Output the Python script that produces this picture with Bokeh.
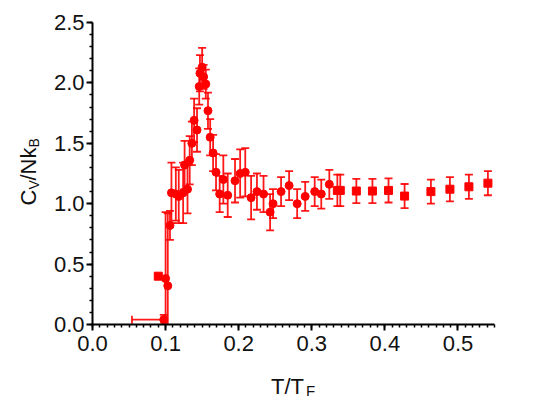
from math import pi
from bokeh.plotting import figure
from bokeh.models import (Range1d, FixedTicker, Whisker, TeeHead, ColumnDataSource, Label,
                          PrintfTickFormatter)
from bokeh.embed import file_html
from bokeh.resources import INLINE

# ---- data ----
circ_x = [0.0975, 0.100, 0.103, 0.106, 0.108, 0.114, 0.118, 0.124, 0.130, 0.126, 0.133,
          0.136, 0.139, 0.143, 0.146, 0.147, 0.150, 0.152, 0.155, 0.158, 0.161, 0.165,
          0.169, 0.174, 0.179, 0.185, 0.195, 0.202, 0.209, 0.217, 0.225, 0.234, 0.243,
          0.247, 0.258, 0.269, 0.280, 0.291, 0.304, 0.313, 0.324]
circ_y = [0.04, 0.38, 0.32, 0.82, 1.09, 1.08, 1.06, 1.09, 1.12, 1.32, 1.36,
          1.50, 1.69, 1.61, 1.97, 2.08, 2.13, 2.05, 1.99, 1.77, 1.55, 1.42,
          1.26, 1.08, 1.20, 1.07, 1.19, 1.25, 1.26, 1.05, 1.10, 1.08, 0.93,
          1.00, 1.10, 1.15, 1.00, 1.06, 1.10, 1.08, 1.16]
circ_err = [0.04, 0.55, 0.60, 0.12, 0.25, 0.22, 0.22, 0.25, 0.20, 0.20, 0.20,
            0.18, 0.18, 0.18, 0.15, 0.15, 0.16, 0.10, 0.12, 0.15, 0.15, 0.15,
            0.15, 0.15, 0.20, 0.18, 0.18, 0.20, 0.20, 0.18, 0.15, 0.15, 0.15,
            0.12, 0.12, 0.12, 0.12, 0.12, 0.12, 0.12, 0.12]

sq_x = [0.090, 0.335, 0.339, 0.361, 0.383, 0.405, 0.427, 0.463, 0.489, 0.515, 0.541]
sq_y = [0.40, 1.11, 1.11, 1.105, 1.105, 1.11, 1.063, 1.10, 1.12, 1.14, 1.17]
sq_err = [0.02, 0.13, 0.13, 0.10, 0.10, 0.10, 0.10, 0.10, 0.10, 0.10, 0.10]

# horizontal error bar of the lowest point
hbar_y = [0.04]
hbar_lo = [0.054]
hbar_hi = [0.0975]

x_ticks = [0.0, 0.1, 0.2, 0.3, 0.4, 0.5]
y_ticks = [0.0, 0.5, 1.0, 1.5, 2.0, 2.5]

RED = "#ff0000"
FONT = "Liberation Sans"

p = figure(frame_width=402, frame_height=302, min_border_left=91, min_border_top=22,
           min_border_right=60, min_border_bottom=72,
           x_range=Range1d(0, 0.55), y_range=Range1d(0, 2.5),
           output_backend="svg", toolbar_location=None)
p.outline_line_color = None
p.xgrid.visible = False
p.ygrid.visible = False
p.background_fill_color = "white"
p.border_fill_color = "white"

p.xaxis.ticker = FixedTicker(ticks=x_ticks, minor_ticks=[i / 100 for i in range(0, 56)])
p.yaxis.ticker = FixedTicker(ticks=y_ticks, minor_ticks=[i / 10 for i in range(0, 26)])
for ax in (p.xaxis, p.yaxis):
    ax.formatter = PrintfTickFormatter(format="%.1f")
    ax.axis_line_width = 2
    ax.axis_line_color = "black"
    ax.major_tick_line_width = 2
    ax.major_tick_line_color = "black"
    ax.minor_tick_line_width = 1.5
    ax.minor_tick_line_color = "black"
    ax.major_tick_out = 6
    ax.major_tick_in = 0
    ax.minor_tick_out = 3
    ax.minor_tick_in = 0
    ax.major_label_text_font = FONT
    ax.major_label_text_font_size = "22px"
    ax.major_label_text_color = "#111111"
p.xaxis.major_label_standoff = 5
p.yaxis.major_label_standoff = 2

src_c = ColumnDataSource(dict(x=circ_x, y=circ_y,
                              lo=[a - b for a, b in zip(circ_y, circ_err)],
                              hi=[a + b for a, b in zip(circ_y, circ_err)]))
src_s = ColumnDataSource(dict(x=sq_x, y=sq_y,
                              lo=[a - b for a, b in zip(sq_y, sq_err)],
                              hi=[a + b for a, b in zip(sq_y, sq_err)]))
src_h = ColumnDataSource(dict(y=hbar_y, lo=hbar_lo, hi=hbar_hi))

for src in (src_c, src_s):
    w = Whisker(source=src, base="x", lower="lo", upper="hi", dimension="height",
                line_color=RED, line_width=1.8, line_alpha=0.9,
                lower_head=TeeHead(size=8, line_color=RED, line_width=1.8, line_alpha=0.9),
                upper_head=TeeHead(size=8, line_color=RED, line_width=1.8, line_alpha=0.9))
    p.add_layout(w)
wh = Whisker(source=src_h, base="y", lower="lo", upper="hi", dimension="width",
             line_color=RED, line_width=1.8, line_alpha=0.9,
             lower_head=TeeHead(size=8, line_color=RED, line_width=1.8, line_alpha=0.9),
             upper_head=None)
p.add_layout(wh)

p.scatter("x", "y", source=src_c, marker="circle", size=8, color=RED)
p.scatter("x", "y", source=src_s, marker="square", size=8, color=RED)

# ---- axis titles with subscripts (real text), held in side panels so they are not clipped;
#      positions are given in data units outside the ranges ----
def xd(px):
    return (px - 91) / 732.7

def yd(py):
    return (324 - py) / 120.8

def lab(x, y, t, size, side, angle=0.0):
    p.add_layout(Label(x=x, y=y, text=t, text_font=FONT, text_font_size=size,
                       text_color="#111111", angle=angle, text_align="left",
                       text_baseline="alphabetic"), side)

# y title: C_V/Nk_B, rotated
lab(xd(27), yd(205), "C", "22px", "left", pi / 2)
lab(xd(32), yd(189), "V", "14px", "right", pi / 2)
lab(xd(27), yd(180), "/Nk", "22px", "left", pi / 2)
lab(xd(32), yd(147), "B", "14px", "right", pi / 2)
# x title: T/T_F
lab(xd(270), yd(386), "T/T", "22px", "below")
lab(xd(305), yd(390), "F", "15px", "right")

open("out.html", "w").write(file_html(p, INLINE))
